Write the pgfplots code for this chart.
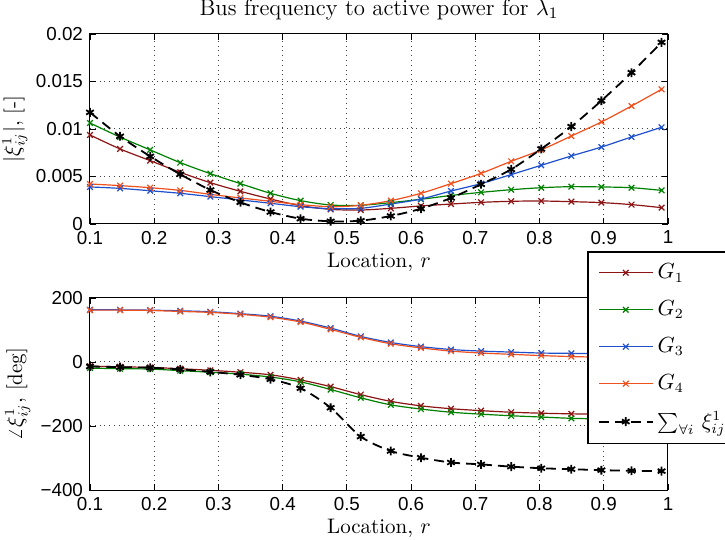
\documentclass[border=0pt]{standalone}
\usepackage{fontspec}
\usepackage{pgfplots}
\usepackage{pgfplotstable}
\pgfplotsset{compat=1.18}
\newfontfamily\tickfont{Liberation Sans}
\definecolor{cgone}{RGB}{140,20,20}
\definecolor{cgtwo}{RGB}{0,128,0}
\definecolor{cgthree}{RGB}{30,80,205}
\definecolor{cgfour}{RGB}{240,80,30}

\pgfplotstableread{
x g1 g2 g3 g4 s
0.1000 0.00937 0.01063 0.00390 0.00421 0.01175
0.1468 0.00790 0.00915 0.00375 0.00404 0.00923
0.1937 0.00667 0.00780 0.00350 0.00382 0.00712
0.2405 0.00544 0.00646 0.00323 0.00354 0.00523
0.2874 0.00435 0.00530 0.00288 0.00312 0.00358
0.3342 0.00344 0.00425 0.00253 0.00274 0.00228
0.3811 0.00263 0.00323 0.00218 0.00239 0.00126
0.4279 0.00193 0.00246 0.00182 0.00204 0.00056
0.4747 0.00154 0.00200 0.00161 0.00182 0.00028
0.5216 0.00147 0.00197 0.00165 0.00197 0.00035
0.5684 0.00165 0.00225 0.00210 0.00246 0.00084
0.6153 0.00190 0.00260 0.00263 0.00323 0.00161
0.6621 0.00210 0.00300 0.00347 0.00425 0.00274
0.7089 0.00228 0.00333 0.00425 0.00533 0.00418
0.7558 0.00239 0.00361 0.00520 0.00660 0.00575
0.8026 0.00242 0.00382 0.00618 0.00780 0.00790
0.8495 0.00235 0.00393 0.00716 0.00926 0.01025
0.8963 0.00225 0.00390 0.00810 0.01074 0.01298
0.9432 0.00204 0.00382 0.00916 0.01242 0.01593
0.9900 0.00172 0.00354 0.01018 0.01418 0.01912
}\magtable

\pgfplotstableread{
x g1 g2 g3 g4 s
0.1000 -13 -19 163 162 -14
0.1468 -15 -21 163 162 -16
0.1937 -17 -22 162 161 -18
0.2405 -21 -27 160 158 -23
0.2874 -26 -32 157 155 -31
0.3342 -32 -38 151 149 -40
0.3811 -40 -47 143 140 -54
0.4279 -56 -62 128 125 -82
0.4747 -77 -86 106 102 -143
0.5216 -102 -112 80 77 -233
0.5684 -123 -134 61 57 -278
0.6153 -137 -147 48 44 -299
0.6621 -146 -157 39 34 -314
0.7089 -152 -163 34 28 -320
0.7558 -157 -168 31 24 -327
0.8026 -160 -172 28 20 -332
0.8495 -162 -176 27 17 -335
0.8963 -163 -178 26 15 -338
0.9432 -164 -180 25 14 -340
0.9900 -165 -181 24 13 -341
}\angtable

\pgfplotsset{
  myaxis/.style={
    scale only axis,
    width=289pt,
    xmin=0.1, xmax=1,
    xtick={0.1,0.2,0.3,0.4,0.5,0.6,0.7,0.8,0.9,1},
    xticklabels={0.1,0.2,0.3,0.4,0.5,0.6,0.7,0.8,0.9,1},
    scaled x ticks=false, scaled y ticks=false,
    tick label style={font=\tickfont\fontsize{9.4}{11}\selectfont},
    /pgf/number format/assume math mode=true,
    grid=major,
    major grid style={dotted, black!75, line width=0.5pt},
    major tick length=3pt,
    tick style={black, line width=0.4pt},
    axis line style={line width=0.5pt},
    xlabel={Location, $r$},
    xlabel style={at={(axis description cs:0.5,0)}, anchor=center, yshift=-19pt},
    label style={font=\fontsize{10.5}{12}\selectfont},
    legend image code/.code={\draw[mark repeat=2,mark phase=2,#1] plot coordinates {(0pt,0pt)(13.5pt,0pt)(27pt,0pt)};},
  },
  gone/.style={cgone, line width=0.6pt, mark=x, mark size=2pt, mark options={solid}},
  gtwo/.style={cgtwo, line width=0.6pt, mark=x, mark size=2pt, mark options={solid}},
  gthree/.style={cgthree, line width=0.6pt, mark=x, mark size=2pt, mark options={solid}},
  gfour/.style={cgfour, line width=0.6pt, mark=x, mark size=2pt, mark options={solid}},
  gsum/.style={black, line width=0.9pt, dash pattern=on 5pt off 3pt, mark=asterisk, mark size=2.2pt, mark options={solid, line width=0.9pt}},
}

\begin{document}
\begin{tikzpicture}
\begin{axis}[myaxis,
  at={(0,0)}, anchor=south west,
  height=95pt,
  ymin=0, ymax=0.02,
  ytick={0,0.005,0.01,0.015,0.02},
  yticklabels={0,0.005,0.01,0.015,0.02},
  ylabel={$|\xi^{1}_{ij}|$, [-]},
  ylabel style={at={(axis description cs:-0.13,0.5)}, anchor=center},
  title={Bus frequency to active power for $\lambda_1$},
  title style={at={(axis description cs:0.5,1)}, anchor=center, yshift=6pt, font=\fontsize{11.4}{13}\selectfont},
]
\addplot[gone, smooth] table[x=x,y=g1] {\magtable};
\addplot[gtwo, smooth] table[x=x,y=g2] {\magtable};
\addplot[gthree, smooth] table[x=x,y=g3] {\magtable};
\addplot[gfour, smooth] table[x=x,y=g4] {\magtable};
\addplot[gsum, smooth] table[x=x,y=s] {\magtable};
\end{axis}

\begin{axis}[myaxis,
  at={(0,-37pt)}, anchor=north west,
  height=96pt,
  ymin=-400, ymax=200,
  ytick={-400,-200,0,200},
  yticklabels={−400,−200,0,200},
  ylabel={$\angle\xi^{1}_{ij}$, [deg]},
  ylabel style={at={(axis description cs:-0.125,0.5)}, anchor=center},
  legend style={at={(axis description cs:0.86,1.245)}, anchor=north west,
    draw=black, line width=0.8pt, fill=white, font=\fontsize{10.5}{12}\selectfont,
    row sep=5.5pt, inner xsep=5pt, inner ysep=4pt,
    cells={anchor=west}},
  legend cell align=left,
]
\addplot[gone, smooth] table[x=x,y=g1] {\angtable};
\addplot[gtwo, smooth] table[x=x,y=g2] {\angtable};
\addplot[gthree, smooth] table[x=x,y=g3] {\angtable};
\addplot[gfour, smooth] table[x=x,y=g4] {\angtable};
\addplot[gsum, smooth] table[x=x,y=s] {\angtable};
\legend{$G_1$,$G_2$,$G_3$,$G_4$,$\sum_{\forall i}\,\xi^{1}_{ij}$}
\end{axis}
\pgfresetboundingbox
\useasboundingbox (-45pt,-158pt) rectangle (317.5pt,112pt);
\end{tikzpicture}
\end{document}
